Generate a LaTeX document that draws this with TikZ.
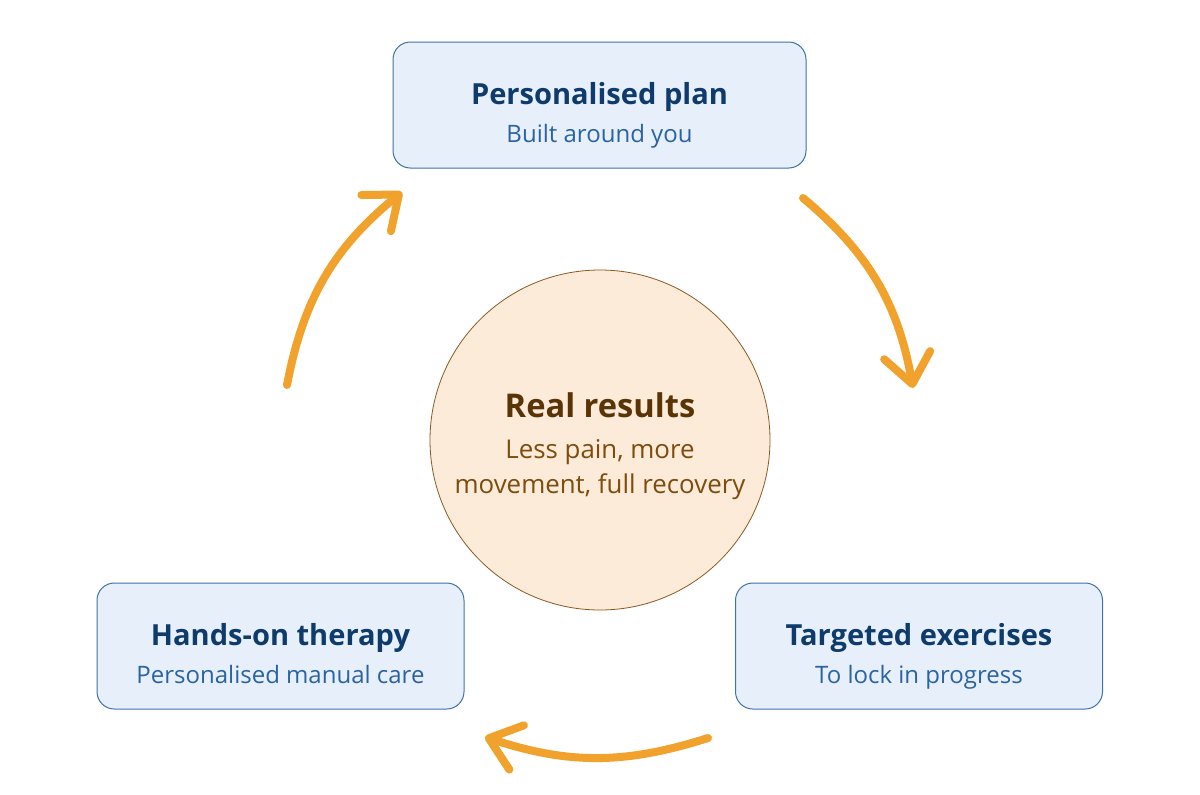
\documentclass[tikz,border=0pt]{standalone}
\usepackage{fontspec}
\setmainfont{Open Sans}
\usetikzlibrary{arrows.meta, positioning}
\definecolor{boxfill}{HTML}{E7F0FA}
\definecolor{boxline}{HTML}{3F72A8}
\definecolor{ttlblue}{HTML}{0E3B6B}
\definecolor{subblue}{HTML}{2A63A3}
\definecolor{ringfill}{HTML}{FCEBD8}
\definecolor{ringline}{HTML}{8A5A22}
\definecolor{ttlbrown}{HTML}{5A3407}
\definecolor{subbrown}{HTML}{7D4C0E}
\definecolor{loopc}{HTML}{F0A22C}

\begin{document}
\begin{tikzpicture}[x=0.75pt, y=-0.75pt,
  box/.style={draw=boxline, fill=boxfill, rounded corners=13pt, line width=0.75pt,
    inner sep=0pt, minimum height=94.5pt},
  ttl/.style={anchor=base, font=\bfseries\fontsize{21.8}{24}\selectfont},
  sub/.style={anchor=base, font=\fontsize{18}{20}\selectfont},
  cycle/.style={draw=loopc, line width=6pt, line cap=round,
    -{Straight Barb[length=22pt, width=35pt, round]}}]
\useasboundingbox (0,0) rectangle (1200,794);

% boxes round the ring
\node[box, minimum width=309.75pt] (plan) at (599.5,105) {};
\node[box, minimum width=275.25pt] (therapy) at (280.5,646) {};
\node[box, minimum width=275.25pt] (exercises) at (919,646) {};
\node[ttl, text=ttlblue] (plan-t) at ([yshift=0.75pt]plan.center) {Personalised plan};
\node[sub, text=subblue] (plan-s) at ([yshift=-27.75pt]plan.center) {Built around you};
\node[ttl, text=ttlblue] (therapy-t) at ([yshift=0.75pt]therapy.center) {Hands-on therapy};
\node[sub, text=subblue] (therapy-s) at ([yshift=-27.75pt]therapy.center) {Personalised manual care};
\node[ttl, text=ttlblue] (exercises-t) at ([yshift=0.75pt]exercises.center) {Targeted exercises};
\node[sub, text=subblue] (exercises-s) at ([yshift=-27.75pt]exercises.center) {To lock in progress};

% centre
\node[circle, draw=ringline, fill=ringfill, line width=0.6pt, minimum size=255pt, inner sep=0pt] (results) at (600,440) {};
\node[ttl, text=ttlbrown, font=\bfseries\fontsize{24.5}{26}\selectfont] (results-t) at ([yshift=17.25pt]results.center) {Real results};
\node[sub, text=subbrown, font=\fontsize{19.4}{22}\selectfont] (results-s1) at ([yshift=-13.5pt]results.center) {Less pain, more};
\node[sub, text=subbrown, font=\fontsize{19.4}{22}\selectfont] (results-s2) at ([yshift=-39.75pt]results.center) {movement, full recovery};

% arrows
\coordinate (up-s) at (287,385);   \coordinate (up-e) at (402,192);
\coordinate (down-s) at (803,198); \coordinate (down-e) at (913,388);
\coordinate (back-s) at (708,738); \coordinate (back-e) at (485,737);
\draw[cycle] (up-s) to[bend left=20] (up-e);
\draw[cycle] (down-s) to[bend left=20] (down-e);
\draw[cycle] (back-s) to[bend left=18] (back-e);
\end{tikzpicture}
\end{document}
